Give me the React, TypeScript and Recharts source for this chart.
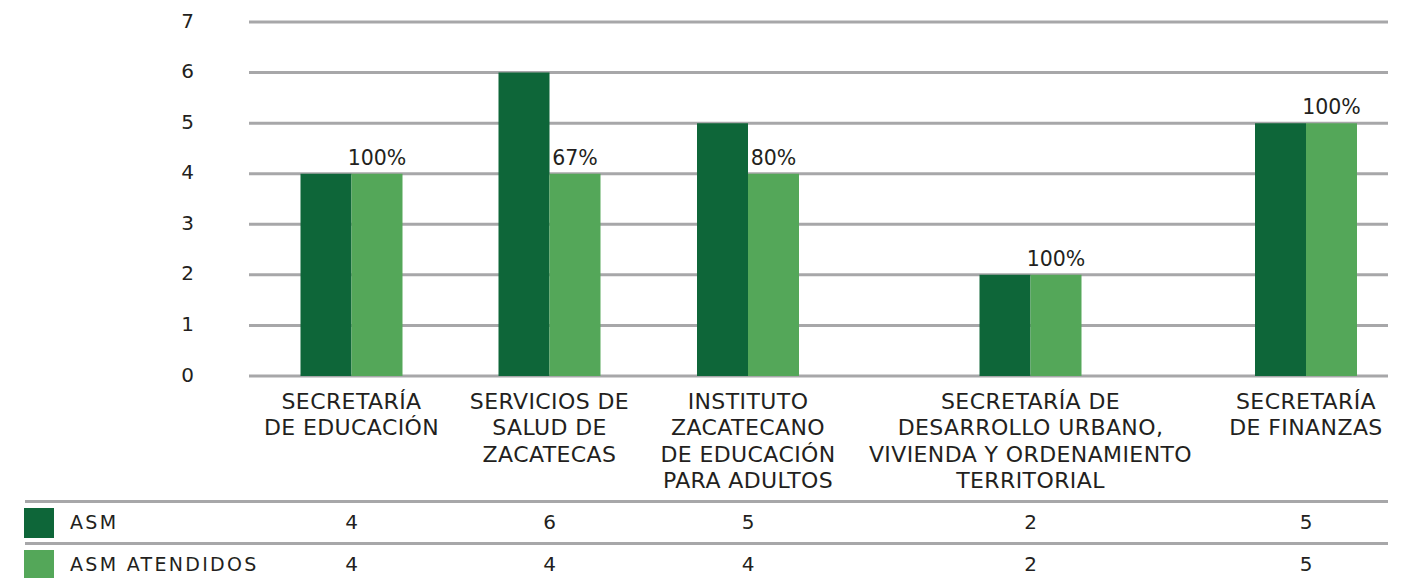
import React from 'react';
import { BarChart, Bar, XAxis, YAxis, CartesianGrid, LabelList } from 'recharts';

const categories = [
  'SECRETARÍA\nDE EDUCACIÓN',
  'SERVICIOS DE\nSALUD DE\nZACATECAS',
  'INSTITUTO\nZACATECANO\nDE EDUCACIÓN\nPARA ADULTOS',
  'SECRETARÍA DE\nDESARROLLO URBANO,\nVIVIENDA Y ORDENAMIENTO\nTERRITORIAL',
  'SECRETARÍA\nDE FINANZAS',
];
const asm = [4, 6, 5, 2, 5];
const asmAtendidos = [4, 4, 4, 2, 5];
const percentLabels = ['100%', '67%', '80%', '100%', '100%'];
const yTicks = [0, 1, 2, 3, 4, 5, 6, 7];
const seriesNames = ['ASM', 'ASM ATENDIDOS'];

// layout: the table columns under the plot are not equal, categories sit at their centres
const columnWidths = [205, 191, 206, 359, 192];
const PLOT_LEFT = 249;
const PLOT_WIDTH = 1139;

const DARK = '#0e6639';
const LIGHT = '#54a759';
const GRID = '#a7a7a9';
const TEXT = '#231f20';
const FONT = '"DejaVu Sans", sans-serif';

const centers = columnWidths.map(
  (w, i) => columnWidths.slice(0, i).reduce((a, b) => a + b, 0) + w / 2
);

const data = categories.map((name, i) => ({
  name,
  pos: centers[i],
  asm: asm[i],
  atendidos: asmAtendidos[i],
  pct: percentLabels[i],
}));

const CategoryTick = (props: any) => {
  const { x, y, payload } = props;
  const idx = centers.indexOf(payload.value);
  const lines = idx >= 0 ? categories[idx].split('\n') : [];
  return (
    <text x={x} y={y} textAnchor="middle" fill={TEXT} fontSize={22} letterSpacing={0.4} fontFamily={FONT}>
      {lines.map((l, i) => (
        <tspan key={i} x={x} dy={i === 0 ? 33 : 26.3}>
          {l}
        </tspan>
      ))}
    </text>
  );
};

const ValueTick = (props: any) => {
  const { x, y, payload } = props;
  return (
    <text x={x - 55} y={y} dy={5.5} textAnchor="end" fill={TEXT} fontSize={20} fontFamily={FONT}>
      {payload.value}
    </text>
  );
};

const rows = [
  { name: seriesNames[0], color: DARK, values: asm, top: 508 },
  { name: seriesNames[1], color: LIGHT, values: asmAtendidos, top: 550 },
];

export default function App() {
  return (
    <div style={{ position: 'absolute', left: 0, top: 0, width: 1410, height: 578, background: '#fff', overflow: 'hidden', fontFamily: FONT, color: TEXT }}>
      <BarChart
        width={1410}
        height={500}
        data={data}
        margin={{ top: 22, right: 22, left: 0, bottom: 0 }}
        barGap={0}
        barSize={51}
      >
        <CartesianGrid vertical={false} stroke={GRID} strokeWidth={3} />
        <XAxis
          dataKey="pos"
          type="number"
          domain={[0, PLOT_WIDTH]}
          ticks={centers}
          interval={0}
          axisLine={false}
          tickLine={false}
          tickSize={0}
          tickMargin={0}
          height={124}
          tick={<CategoryTick />}
        />
        <YAxis
          domain={[0, 7]}
          ticks={yTicks}
          interval={0}
          width={249}
          axisLine={false}
          tickLine={false}
          tickSize={0}
          tickMargin={0}
          tick={<ValueTick />}
        />
        <Bar dataKey="asm" fill={DARK} isAnimationActive={false} />
        <Bar dataKey="atendidos" fill={LIGHT} isAnimationActive={false}>
          <LabelList dataKey="pct" position="top" offset={9} fill={TEXT} fontSize={20.5} fontFamily={FONT} />
        </Bar>
      </BarChart>

      <div style={{ position: 'absolute', left: 25, top: 500, width: 1363, height: 3, background: GRID }} />
      <div style={{ position: 'absolute', left: 25, top: 542, width: 1363, height: 3, background: GRID }} />
      {rows.map((r) => (
        <React.Fragment key={r.name}>
          <div style={{ position: 'absolute', left: 24, top: r.top, width: 30, height: 30, background: r.color }} />
          <div style={{ position: 'absolute', left: 70, top: r.top - 1, height: 30, lineHeight: '30px', fontSize: 19, letterSpacing: 2.3, whiteSpace: 'nowrap' }}>
            {r.name}
          </div>
          {r.values.map((v, i) => (
            <div
              key={i}
              style={{
                position: 'absolute',
                left: PLOT_LEFT + centers[i] - 50,
                width: 100,
                top: r.top - 1,
                height: 30,
                lineHeight: '30px',
                fontSize: 20,
                textAlign: 'center',
              }}
            >
              {v}
            </div>
          ))}
        </React.Fragment>
      ))}
    </div>
  );
}
